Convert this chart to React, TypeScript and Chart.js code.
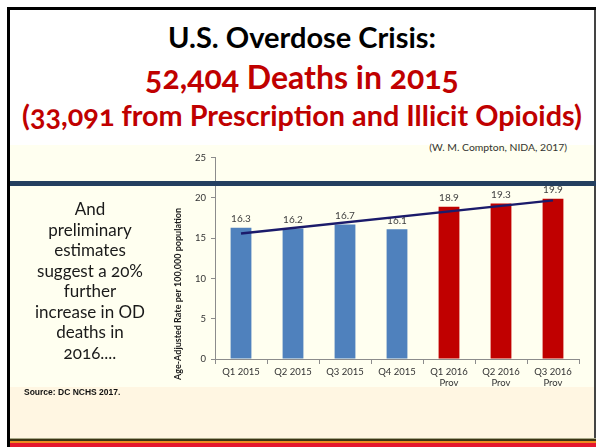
import React, { useEffect, useRef } from "react";
import { Chart, registerables } from "chart.js";

Chart.register(...registerables);

const categories: string[][] = [
  ["Q1 2015"],
  ["Q2 2015"],
  ["Q3 2015"],
  ["Q4 2015"],
  ["Q1 2016", "Prov"],
  ["Q2 2016", "Prov"],
  ["Q3 2016", "Prov"],
];
const rates = [16.3, 16.2, 16.7, 16.1, 18.9, 19.3, 19.9];
const barColors = ["#4F81BD", "#4F81BD", "#4F81BD", "#4F81BD", "#C00000", "#C00000", "#C00000"];
const trend: (number | null)[] = [15.6, null, null, null, null, null, 19.7];
const yTicks = [0, 5, 10, 15, 20, 25];
const yTitle = "Age-Adjusted Rate per 100,000 population";

const labelPlugin = {
  id: "barLabels",
  beforeDatasetsDraw(chart: any) {
    const ctx = chart.ctx;
    const meta = chart.getDatasetMeta(0);
    ctx.save();
    ctx.font = "10px Lato";
    ctx.fillStyle = "#404040";
    ctx.textAlign = "center";
    ctx.textBaseline = "middle";
    meta.data.forEach((el: any, i: number) => {
      ctx.fillText(String(rates[i]), el.x, el.y - 9);
    });
    ctx.restore();
  },
  afterDraw(chart: any) {
    const ctx = chart.ctx;
    const area = chart.chartArea;
    ctx.save();
    ctx.font = "bold 9px Lato";
    ctx.fillStyle = "#1a1a1a";
    ctx.textAlign = "center";
    ctx.textBaseline = "middle";
    ctx.translate(area.left - 37, area.bottom - 65);
    ctx.rotate(-Math.PI / 2);
    ctx.fillText(yTitle, 0, 0);
    ctx.restore();
  },
};

function ChartBox() {
  const ref = useRef<HTMLCanvasElement>(null);
  useEffect(() => {
    if (!ref.current) return;
    const chart = new Chart(ref.current, {
      type: "bar",
      data: {
        labels: categories,
        datasets: [
          {
            type: "bar",
            data: rates,
            backgroundColor: barColors,
            barPercentage: 0.4,
            categoryPercentage: 1,
            order: 1,
          },
          {
            type: "line",
            data: trend,
            borderColor: "#1B1B6B",
            borderWidth: 2.5,
            pointRadius: 0,
            spanGaps: true,
            order: 0,
          } as any,
        ],
      },
      options: {
        animation: false,
        responsive: false,
        maintainAspectRatio: false,
        layout: { padding: { top: 10, right: 11, left: 0, bottom: 0 } },
        plugins: { legend: { display: false }, tooltip: { enabled: false }, title: { display: false } },
        scales: {
          x: {
            grid: { drawOnChartArea: false, drawTicks: true, tickLength: 5, color: "#8c8c8c" },
            border: { display: true, color: "#8c8c8c" },
            ticks: { font: { family: "Lato", size: 9.5 }, color: "#333333", padding: 2, maxRotation: 0, autoSkip: false },
            afterFit(scale: any) {
              scale.height = 33;
            },
          },
          y: {
            min: 0,
            max: 25,
            afterBuildTicks(scale: any) {
              scale.ticks = yTicks.map((v) => ({ value: v }));
            },
            grid: { drawOnChartArea: false, drawTicks: true, tickLength: 4, color: "#8c8c8c" },
            border: { display: true, color: "#8c8c8c" },
            ticks: { font: { family: "Lato", size: 9.5 }, color: "#333333", padding: 5 },
            afterFit(scale: any) {
              scale.width = 65;
            },
          },
        },
      },
      plugins: [labelPlugin],
    });
    return () => chart.destroy();
  }, []);
  return <canvas ref={ref} width={440} height={245} style={{ position: "absolute", left: 150, top: 147, width: 440, height: 245 }} />;
}

export default function App() {
  const calib = "Lato, 'Open Sans', sans-serif";
  const abs = (s: React.CSSProperties): React.CSSProperties => ({ position: "absolute", ...s });
  return (
    <div style={{ position: "fixed", left: 0, top: 0, width: 596, height: 447, background: "#ffffff", overflow: "hidden", fontFamily: calib }}>
      {/* slide frame */}
      <div style={abs({ left: 7, top: 7, width: 589, height: 3, background: "#000" })} />
      <div style={abs({ left: 7, top: 7, width: 3, height: 440, background: "#000" })} />
      <div style={abs({ left: 10, top: 10, width: 584, height: 135, background: "#ffffff" })} />
      <div style={abs({ left: 10, top: 145, width: 584, height: 242, background: "#FFFFF0" })} />
      <div style={abs({ left: 10, top: 387, width: 584, height: 51, background: "#FFF6E2" })} />
      <div style={abs({ left: 10, top: 438, width: 586, height: 1, background: "#A8A888" })} />
      <div style={abs({ left: 10, top: 439, width: 586, height: 2, background: "#3C3414" })} />
      <div style={abs({ left: 10, top: 441, width: 586, height: 2, background: "#EE8A20" })} />
      <div style={abs({ left: 10, top: 443, width: 586, height: 4, background: "#E5162E" })} />
      <div style={abs({ left: 594, top: 10, width: 2, height: 428, background: "#444444" })} />

      {/* titles */}
      <div style={abs({ left: 10, width: 584, top: 19, textAlign: "center", fontSize: 29, fontWeight: 700, color: "#000", lineHeight: "36px" })}>
        U.S. Overdose Crisis:
      </div>
      <div style={abs({ left: 10, width: 584, top: 58, textAlign: "center", fontSize: 32, fontWeight: 700, color: "#C00000", lineHeight: "38px", fontVariantNumeric: "oldstyle-nums" })}>
        52,404 Deaths in 2015
      </div>
      <div style={abs({ left: 0, width: 604, top: 98, textAlign: "center", fontSize: 28.8, fontWeight: 700, color: "#C00000", lineHeight: "34px", fontVariantNumeric: "oldstyle-nums", whiteSpace: "nowrap" })}>
        (33,091 from Prescription and Illicit Opioids)
      </div>

      <div style={abs({ right: 29, top: 140, fontSize: 10.4, color: "#333", lineHeight: "14px", whiteSpace: "nowrap" })}>
        (W. M. Compton, NIDA, 2017)
      </div>

      <ChartBox />

      {/* blue band */}
      <div style={abs({ left: 10, top: 181, width: 586, height: 5, background: "#243F60" })} />

      <div style={abs({ left: 20, width: 140, top: 199, textAlign: "center", fontSize: 17, color: "#1a1a1a", lineHeight: "20.5px", fontVariantNumeric: "oldstyle-nums" })}>
        And
        <br />preliminary
        <br />estimates
        <br />suggest a 20%
        <br />further
        <br />increase in OD
        <br />deaths in
        <br />2016....
      </div>

      <div style={abs({ left: 24, top: 386, fontSize: 8.5, fontWeight: 700, fontFamily: "'Liberation Sans', Arial, sans-serif", color: "#111", lineHeight: "12px" })}>
        Source: DC NCHS 2017.
      </div>
    </div>
  );
}
